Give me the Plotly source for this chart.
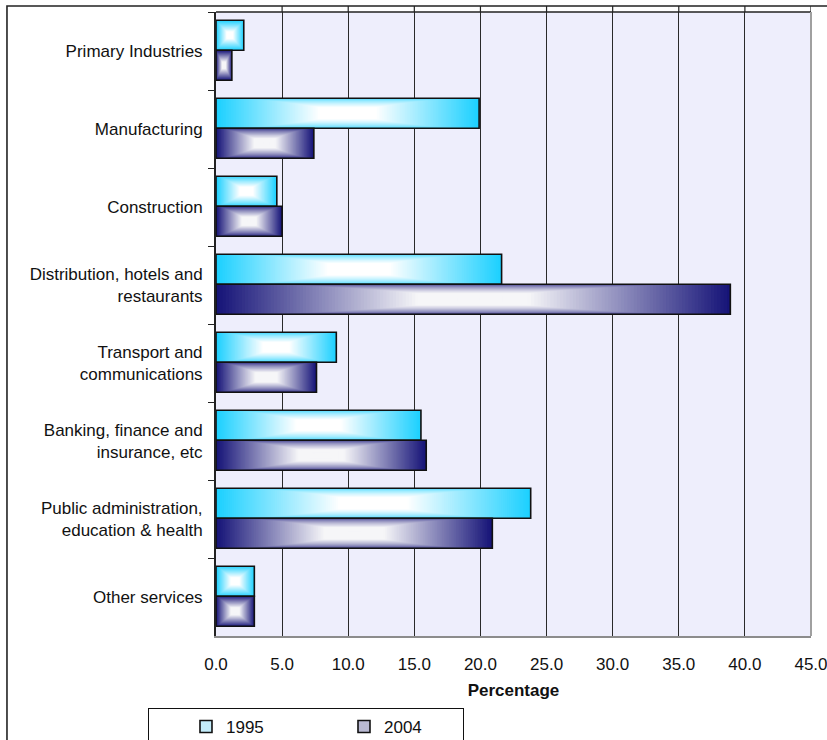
import math
import plotly.graph_objects as go

# Share of employment by industry, 1995 vs 2004 (percent)
categories = [
    "Primary Industries",
    "Manufacturing",
    "Construction",
    "Distribution, hotels and<br>restaurants",
    "Transport and<br>communications",
    "Banking, finance and<br>insurance, etc",
    "Public administration,<br>education & health",
    "Other services",
]
values_1995 = [2.1, 19.9, 4.6, 21.6, 9.1, 15.5, 23.8, 2.9]
values_2004 = [1.2, 7.4, 5.0, 38.9, 7.6, 15.9, 20.9, 2.9]
x_ticks = [0, 5, 10, 15, 20, 25, 30, 35, 40, 45]
x_ticklabels = ["0.0", "5.0", "10.0", "15.0", "20.0", "25.0", "30.0", "35.0", "40.0", "45.0"]

FONT = "Arial, Liberation Sans, sans-serif"
BAR_W = 0.385      # bar thickness in category units
LEVELS = 80        # steps of the centre-lit gradient fill
X_MAX = 45
PLOT_W_PX = 595
BAR_H_PX = 30

series = [
    # name, values, offset, edge colour, centre colour, legend swatch, legend width
    ("1995", values_1995, -0.395, (28, 208, 255), (255, 255, 255), "#C4EDFB", 76),
    ("2004", values_2004, -0.010, (22, 20, 120), (246, 246, 248), "#B9B9D2", 74),
]


def mix(c0, c1, s):
    return "rgb({},{},{})".format(*[round(a + (b - a) * s) for a, b in zip(c0, c1)])


def thickness_exponent(v):
    # long bars fade faster across their thickness than along their length
    aspect = v * PLOT_W_PX / X_MAX / BAR_H_PX
    return 1 + min(1.0, max(0.0, math.log10(max(aspect, 1e-6))))


fig = go.Figure()

for name, vals, off, edge, centre, swatch, lw in series:
    pexp = [thickness_exponent(v) for v in vals]
    for k in range(LEVELS):
        t = k / LEVELS
        s = min(1.0, t / 0.78)
        hfrac = [1 - t ** p for p in pexp]
        fig.add_trace(go.Bar(
            y=categories,
            x=[v * (1 - t) for v in vals],
            base=[v * t / 2 for v in vals],
            orientation="h",
            width=[BAR_W * h for h in hfrac],
            offset=[off + BAR_W * (1 - h) / 2 for h in hfrac],
            marker=dict(color=mix(edge, centre, s), line=dict(width=0)),
            showlegend=False,
            hoverinfo="skip",
        ))
    # crisp dark outline on top of the gradient
    fig.add_trace(go.Bar(
        y=categories,
        x=vals,
        orientation="h",
        width=BAR_W,
        offset=off,
        marker=dict(color="rgba(0,0,0,0)", line=dict(color="#111111", width=1.6)),
        showlegend=False,
        name=name,
    ))
    # legend entry
    fig.add_trace(go.Bar(
        y=[categories[0]],
        x=[None],
        orientation="h",
        name=name,
        marker=dict(color=swatch, line=dict(color="#111111", width=1.6)),
        showlegend=True,
        legendwidth=lw,
        hoverinfo="skip",
    ))

# plot-area frame pieces and the gridline stubs above the plot
shapes = [
    dict(type="line", xref="paper", yref="paper", x0=0, x1=1, y0=1, y1=1,
         line=dict(color="#222222", width=1.6)),
    dict(type="line", xref="paper", yref="paper", x0=1.0, x1=1.0, y0=0, y1=1,
         line=dict(color="#A0A0A0", width=2)),
    # outer chart border
    dict(type="rect", xref="paper", yref="paper", x0=-0.3513, x1=1.05, y0=-0.2, y1=1.0096,
         line=dict(color="#222222", width=1.6), fillcolor="rgba(0,0,0,0)", layer="above"),
]
for xv in x_ticks[1:]:
    shapes.append(dict(type="line", xref="x", yref="paper", x0=xv, x1=xv, y0=1, y1=1.0096,
                       line=dict(color="#222222", width=1.2)))

fig.update_layout(
    width=827,
    height=740,
    margin=dict(l=216, r=16, t=12, b=104, autoexpand=False),
    paper_bgcolor="white",
    plot_bgcolor="#EEEEFC",
    barmode="overlay",
    font=dict(family=FONT, size=17, color="#111111"),
    showlegend=True,
    legend=dict(
        orientation="h",
        x=-0.1143, xanchor="left",
        y=-0.1154, yanchor="top",
        bordercolor="#111111",
        borderwidth=1,
        bgcolor="white",
        font=dict(family=FONT, size=17, color="#111111"),
        indentation=37,
        traceorder="normal",
        itemclick=False,
    ),
    shapes=shapes,
    xaxis=dict(
        range=[0, X_MAX],
        tickvals=x_ticks,
        ticktext=x_ticklabels,
        ticklabeloverflow="allow",
        showgrid=True,
        gridcolor="#2A2A2A",
        gridwidth=1,
        zeroline=False,
        showline=True,
        linecolor="#8C8C8C",
        linewidth=2,
        ticks="",
        ticklabelstandoff=12,
        automargin=False,
        title=dict(text="<b>Percentage</b>", font=dict(family=FONT, size=17), standoff=11),
        tickfont=dict(family=FONT, size=17, color="#111111"),
    ),
    yaxis=dict(
        type="category",
        autorange="reversed",
        tickson="boundaries",
        ticks="outside",
        ticklen=6,
        tickcolor="#222222",
        showgrid=False,
        showline=True,
        linecolor="#222222",
        linewidth=2,
        automargin=False,
        ticklabelstandoff=8,
        tickfont=dict(family=FONT, size=17, color="#111111"),
    ),
)

fig.write_html("out.html")
